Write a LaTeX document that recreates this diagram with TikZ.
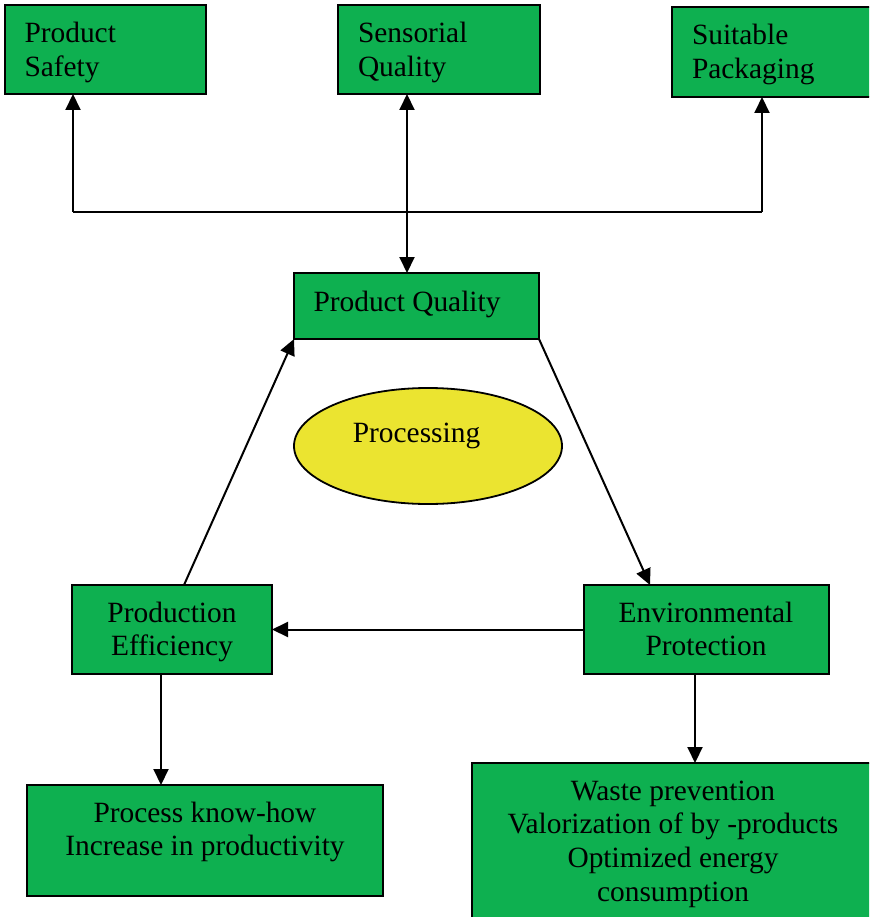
\documentclass[tikz,border=0pt]{standalone}
\usepackage{fontspec}
\setmainfont{Liberation Serif}
\usetikzlibrary{arrows.meta,shapes.geometric}
\definecolor{boxgreen}{RGB}{14,176,80}
\definecolor{ellyellow}{RGB}{235,228,48}
\newcommand\dfont{\fontsize{29.4}{33.8}\selectfont}
\tikzset{
  gbox/.style={draw=black, line width=2pt, fill=boxgreen, rectangle, inner sep=0pt, outer sep=0pt},
  txt/.style={inner sep=0pt, outer sep=0pt, font=\dfont, text=black},
  conn/.style={line width=2pt, draw=black},
  arr/.style={conn, -{Triangle[length=16pt,width=15pt]}},
  arrb/.style={conn, {Triangle[length=16pt,width=15pt]}-{Triangle[length=16pt,width=15pt]}},
}
\begin{document}
\begin{tikzpicture}[x=1pt,y=-1pt]
\useasboundingbox (0,0) rectangle (869,917);
\clip (0,0) rectangle (869,917);
\fill[white] (0,0) rectangle (869,917);

% boxes
\node[gbox, minimum width=201pt, minimum height=89pt] (safety) at (105.5,49.5) {};
\node[gbox, minimum width=202pt, minimum height=89pt] (sens) at (439,49.5) {};
\node[gbox, minimum width=200pt, minimum height=90pt] (pack) at (772,52) {};
\node[gbox, minimum width=245pt, minimum height=66pt] (pq) at (416.5,306) {};
\node[ellipse, draw=black, line width=1.8pt, fill=ellyellow, minimum width=268pt, minimum height=116pt, inner sep=0pt] (proc) at (428,446) {};
\node[gbox, minimum width=200pt, minimum height=89pt] (eff) at (172,629.5) {};
\node[gbox, minimum width=245pt, minimum height=89pt] (env) at (706.5,629.5) {};
\node[gbox, minimum width=356pt, minimum height=111pt] (know) at (205,840.5) {};
\node[gbox, minimum width=402pt, minimum height=167pt] (waste) at (673,846.5) {};

% texts
\node[txt, anchor=base west] (safetyT) at (24.5,43) {\parbox[t]{175pt}{Product\\Safety}};
\node[txt, anchor=base west] (sensT) at (358,43) {\parbox[t]{175pt}{Sensorial\\Quality}};
\node[txt, anchor=base west] (packT) at (692,45) {\parbox[t]{175pt}{Suitable\\Packaging}};
\node[txt, anchor=base west] (pqT) at (313.5,311) {Product Quality};
\node[txt, anchor=base] (procT) at (416.5,442) {Processing};
\node[txt, anchor=base] (effT) at (172,622) {\parbox[t]{195pt}{\centering Production\\Efficiency}};
\node[txt, anchor=base] (envT) at (706,622) {\parbox[t]{240pt}{\centering Environmental\\Protection}};
\node[txt, anchor=base] (knowT) at (205,822) {\parbox[t]{350pt}{\centering Process know-how\\Increase in productivity}};
\node[txt, anchor=base] (wasteT) at (673,800) {\parbox[t]{395pt}{\centering Waste prevention\\Valorization of by -products\\Optimized energy\\consumption}};

% connector helpers
\coordinate (jl) at (73,212);
\coordinate (jc) at (407,212);
\coordinate (jr) at (762,212);
\coordinate (xeff) at (161,0);
\coordinate (xenv) at (695,0);

% top tree
\draw[conn] (jl) -- (jr);
\draw[arr] (jl) -- (jl |- safety.south);
\draw[arr] (jr) -- (jr |- pack.south);
\draw[arrb] (jc |- pq.north) -- (jc |- sens.south);

% triangle
\draw[arr] (pq.south east) -- ([xshift=66pt]env.north west);
\draw[arr] ([xshift=112pt]eff.north west) -- (pq.south west);
\draw[arr] (env.west) -- (eff.east);

% downward
\draw[arr] (xeff |- eff.south) -- (xeff |- know.north);
\draw[arr] (xenv |- env.south) -- (xenv |- waste.north);
\end{tikzpicture}
\end{document}
